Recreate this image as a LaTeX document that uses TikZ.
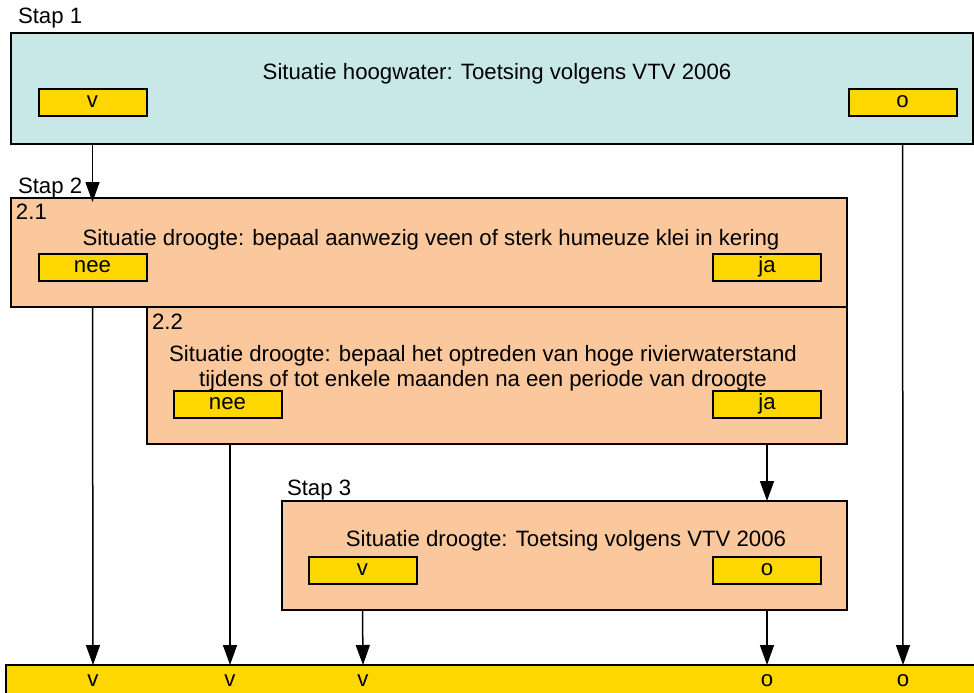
\documentclass[tikz,border=0pt]{standalone}
\usepackage{fontspec}
\setmainfont{Liberation Sans}
\usetikzlibrary{arrows.meta}
\definecolor{cyanbox}{HTML}{C8E8E8}
\definecolor{peach}{HTML}{FAC89C}
\definecolor{gold}{HTML}{FFD700}
\begin{document}
\begin{tikzpicture}[x=1pt,y=-1pt,
  every node/.style={font=\fontsize{22.2}{26}\selectfont, inner sep=0pt, outer sep=0pt},
  bigbox/.style={draw=black, line width=2pt, anchor=north west, rectangle},
  ybox/.style={draw=black, line width=2pt, fill=gold, minimum width=108pt, minimum height=27pt, anchor=center},
  lbl/.style={anchor=base west},
  arr/.style={line width=1.5pt, -{Triangle[length=20pt,width=14pt]}}
]
\useasboundingbox (0,0) rectangle (974,693);
% Stap 1
\node[lbl] (s1) at (18,24) {Stap 1};
\node[bigbox, fill=cyanbox, minimum width=962pt, minimum height=111pt] (b1) at (11,33) {};
\node (t1) at (497,74) {Situatie hoogwater: Toetsing volgens VTV 2006};
\node[ybox] (v1) at (92.5,102) {v};
\node[ybox] (o1) at (902.5,102) {o};
% Stap 2
\node[lbl] (s2) at (18,193) {Stap 2};
\node[bigbox, fill=peach, minimum width=836pt, minimum height=109pt] (b21) at (11,198) {};
\node[lbl] (n21) at (16,219) {2.1};
\node (t21) at (431,240) {Situatie droogte: bepaal aanwezig veen of sterk humeuze klei in kering};
\node[ybox] (nee1) at (92.5,267) {nee};
\node[ybox] (ja1) at (767,267) {ja};
\node[bigbox, fill=peach, minimum width=700pt, minimum height=137pt] (b22) at (147,307) {};
\node[lbl] (n22) at (152,329) {2.2};
\node[align=center] (t22) at (483,368) {Situatie droogte: bepaal het optreden van hoge rivierwaterstand\\[-1pt]tijdens of tot enkele maanden na een periode van droogte};
\node[ybox] (nee2) at (227.5,404) {nee};
\node[ybox] (ja2) at (767,404) {ja};
% Stap 3
\node[lbl] (s3) at (287,495) {Stap 3};
\node[bigbox, fill=peach, minimum width=565pt, minimum height=109pt] (b3) at (282,501) {};
\node (t3) at (566,541) {Situatie droogte: Toetsing volgens VTV 2006};
\node[ybox] (v3) at (362.5,570) {v};
\node[ybox] (o3) at (767,570) {o};
% Result bar
\node[bigbox, fill=gold, minimum width=970pt, minimum height=30pt] (bar) at (6,665) {};
\node (r1) at (93,681) {v};
\node (r2) at (230,681) {v};
\node (r3) at (363,681) {v};
\node (r4) at (767,681) {o};
\node (r5) at (903,681) {o};
% arrows
\draw[arr] (v1.south |- b1.south) -- ([yshift=-4pt]v1.south |- b21.north);
\draw[arr] (o1.south |- b1.south) -- (r5 |- bar.north);
\draw[arr] (nee1.south |- b21.south) -- (r1 |- bar.north);
\draw[arr] (r2 |- b22.south) -- (r2 |- bar.north);
\draw[arr] (ja2.south |- b22.south) -- (ja2.south |- b3.north);
\draw[arr] (v3.south |- b3.south) -- (r3 |- bar.north);
\draw[arr] (o3.south |- b3.south) -- (r4 |- bar.north);
\end{tikzpicture}
\end{document}
